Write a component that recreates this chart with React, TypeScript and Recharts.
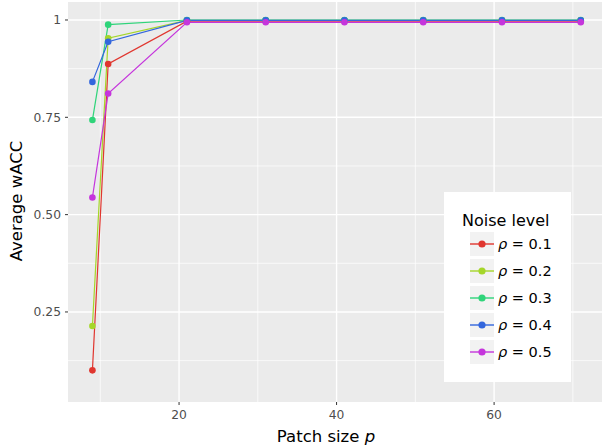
import React from 'react';
import { LineChart, Line, XAxis, YAxis, CartesianGrid, ReferenceLine, Legend } from 'recharts';

const patchSizes = [9, 11, 21, 31, 41, 51, 61, 71];
const rho01 = [0.1, 0.887, 0.997, 0.997, 0.997, 0.997, 0.997, 0.997];
const rho02 = [0.214, 0.953, 0.999, 0.999, 0.999, 0.999, 0.999, 0.999];
const rho03 = [0.743, 0.988, 1.0, 1.0, 1.0, 1.0, 1.0, 1.0];
const rho04 = [0.841, 0.944, 0.999, 0.999, 0.999, 0.999, 0.999, 0.999];
const rho05 = [0.544, 0.811, 0.994, 0.994, 0.994, 0.994, 0.994, 0.994];

const seriesLevels = ['0.1', '0.2', '0.3', '0.4', '0.5'];
const seriesValues = [rho01, rho02, rho03, rho04, rho05];
const seriesColors = ['#e0362f', '#a5d62a', '#2fd47a', '#3366dd', '#c535dc'];

const xTicks = [20, 40, 60];
const xMinor = [10, 30, 50, 70];
const yTicks = [0.25, 0.5, 0.75, 1];
const yMinor = [0.125, 0.375, 0.625, 0.875];

const data = patchSizes.map((p, i) => {
  const row: Record<string, number> = { p };
  seriesLevels.forEach((lv, k) => {
    row['r' + lv] = seriesValues[k][i];
  });
  return row;
});

const FONT = 'DejaVu Sans, sans-serif';

const renderLegend = (props: any) => {
  const payload = props.payload || [];
  return (
    <div style={{ position: 'relative', width: 127, height: 190, background: '#ffffff', fontFamily: FONT }}>
      <div style={{ position: 'absolute', left: 18, top: 20, fontSize: 16, lineHeight: '18px', color: '#000', whiteSpace: 'nowrap' }}>
        Noise level
      </div>
      {payload.map((entry: any, i: number) => (
        <div key={i} style={{ position: 'absolute', left: 26, top: 40 + i * 27, height: 24, display: 'flex', alignItems: 'center' }}>
          <svg width={24} height={24} style={{ display: 'block' }}>
            <rect x={0} y={0} width={24} height={24} fill="#f2f2f2" />
            <line x1={0} y1={12} x2={24} y2={12} stroke={entry.color} strokeWidth={1.4} />
            <circle cx={12} cy={12} r={3.6} fill={entry.color} />
          </svg>
          <span style={{ marginLeft: 4, fontSize: 14.5, color: '#000', whiteSpace: 'nowrap' }}>
            <i>ρ</i> = {entry.value}
          </span>
        </div>
      ))}
    </div>
  );
};

const YTitle = () => (
  <text x={16} y={201} transform="rotate(-90, 16, 201)" textAnchor="middle" dominantBaseline="central" fontSize={16.5} fontFamily={FONT} fill="#000">
    Average wACC
  </text>
);

const XTitle = () => (
  <text x={326} y={442} textAnchor="middle" fontSize={16.5} fontFamily={FONT} fill="#000">
    Patch size <tspan fontStyle="italic">p</tspan>
  </text>
);

export default function App() {
  return (
    <div style={{ position: 'absolute', left: 0, top: 0 }}>
      <LineChart width={603} height={448} data={data} margin={{ top: 2, right: 1, bottom: 0, left: 0 }}>
        <CartesianGrid fill="#ebebeb" horizontal={false} vertical={false} />
        {xMinor.map((v) => (
          <ReferenceLine key={'xm' + v} xAxisId="bottom" x={v} stroke="#ffffff" strokeWidth={0.7} />
        ))}
        {yMinor.map((v) => (
          <ReferenceLine key={'ym' + v} y={v} xAxisId="bottom" stroke="#ffffff" strokeWidth={0.7} />
        ))}
        {xTicks.map((v) => (
          <ReferenceLine key={'xM' + v} xAxisId="bottom" x={v} stroke="#ffffff" strokeWidth={1.4} />
        ))}
        {yTicks.map((v) => (
          <ReferenceLine key={'yM' + v} y={v} xAxisId="bottom" stroke="#ffffff" strokeWidth={1.4} />
        ))}
        <XAxis
          xAxisId="bottom"
          type="number"
          dataKey="p"
          domain={[5.9, 73.7]}
          ticks={xTicks}
          allowDataOverflow
          height={46}
          axisLine={false}
          tickSize={3}
          tickMargin={5}
          tickLine={{ stroke: '#333333', strokeWidth: 1 }}
          tick={{ fill: '#4d4d4d', fontSize: 12.3, fontFamily: FONT }}
          label={<XTitle />}
        />
        <XAxis
          xAxisId="top"
          orientation="top"
          type="number"
          dataKey="p"
          domain={[5.9, 73.7]}
          ticks={xTicks}
          allowDataOverflow
          height={0}
          axisLine={false}
          tickSize={3}
          tickLine={{ stroke: '#333333', strokeWidth: 1 }}
          tick={() => <g />}
        />
        <YAxis
          type="number"
          domain={[0.0187, 1.0462]}
          ticks={yTicks}
          allowDataOverflow
          width={68}
          axisLine={false}
          tickSize={3}
          tickMargin={4}
          tickLine={{ stroke: '#333333', strokeWidth: 1 }}
          tick={{ fill: '#4d4d4d', fontSize: 12.3, fontFamily: FONT }}
          tickFormatter={(v: number) => (v === 1 ? '1' : v.toFixed(2))}
          label={<YTitle />}
        />
        {seriesLevels.map((lv, k) => (
          <Line
            key={lv}
            xAxisId="bottom"
            type="linear"
            dataKey={'r' + lv}
            name={lv}
            stroke={seriesColors[k]}
            strokeWidth={1.2}
            dot={{ r: 3.3, fill: seriesColors[k], stroke: 'none' }}
            activeDot={false}
            isAnimationActive={false}
          />
        ))}
        <Legend
          layout="horizontal"
          verticalAlign="middle"
          align="center"
          content={renderLegend}
          wrapperStyle={{ position: 'absolute', left: 444, top: 192, width: 127, height: 190 }}
        />
      </LineChart>
    </div>
  );
}
